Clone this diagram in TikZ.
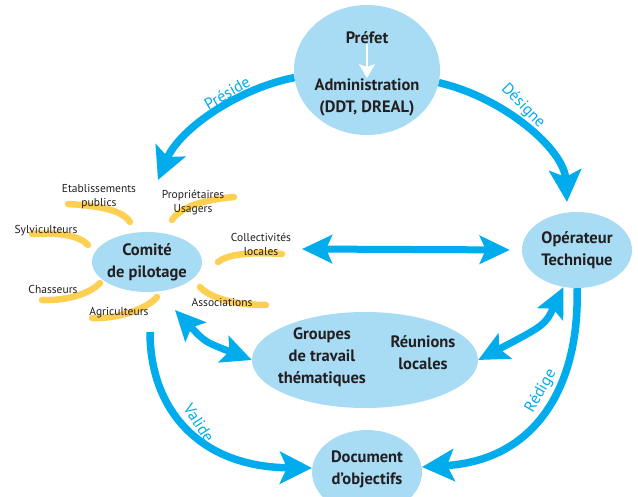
\documentclass[tikz,border=0pt]{standalone}
\usepackage{fontspec}
\setmainfont{PT Sans}
\usetikzlibrary{shapes.geometric,arrows.meta}
\definecolor{fleche}{RGB}{0,172,236}
\definecolor{bulle}{RGB}{168,219,244}
\definecolor{pinceau}{RGB}{253,196,40}
\definecolor{encre}{RGB}{35,31,32}
\begin{document}
\begin{tikzpicture}[x=1pt,y=-1pt,
  ovale/.style={ellipse,fill=bulle,inner sep=0pt},
  gros/.style={font=\bfseries\fontsize{16.5}{22}\selectfont,text=encre,align=center,inner sep=0pt},
  acteur/.style={font=\fontsize{11.5}{14}\selectfont,text=encre,align=center,inner sep=0pt},
  trait/.style={draw=pinceau,line width=6.5pt,line cap=round,opacity=0.8},
  lien/.style={draw=fleche,line width=7.5pt,-{Stealth[length=32pt,width=32pt,inset=7pt]}},
  liendouble/.style={draw=fleche,line width=7pt,{Stealth[length=30pt,width=28pt,inset=6pt]}-{Stealth[length=30pt,width=28pt,inset=6pt]}},
  verbe/.style={font=\fontsize{16}{18}\selectfont,text=fleche,inner sep=0pt}
]
\useasboundingbox (0,0) rectangle (638,497);
% bulles
\node[ovale,minimum width=146pt,minimum height=130pt] (pref) at (367,70) {};
\node[ovale,minimum width=110pt,minimum height=60pt] (comite) at (147,262) {};
\node[ovale,minimum width=110pt,minimum height=76pt] (oper) at (577,250) {};
\node[ovale,minimum width=226pt,minimum height=96pt] (groupes) at (365,360) {};
\node[ovale,minimum width=110pt,minimum height=84pt] (doc) at (367,472) {};
% textes des bulles
\node[gros] (prefet) at (367,38) {Préfet};
\node[gros] (admin) at (367,97) {Administration\\(DDT, DREAL)};
\draw[white,line width=2pt,-{Stealth[length=14pt,width=16pt,inset=3pt]}] (prefet) -- (admin);
\node[gros] at (comite) {Comité\\de pilotage};
\node[gros] at (oper) {Opérateur\\Technique};
\node[gros] at (322,357) {Groupes\\de travail\\thématiques};
\node[gros] at (423,353) {Réunions\\locales};
\node[gros] at (367,469) {Document\\d’objectifs};
% acteurs du comite
\draw[trait] (68,204) .. controls (100,206) and (122,210) .. (130,222);
\draw[trait] (234,197) .. controls (200,200) and (180,208) .. (172,220);
\draw[trait] (32,234) .. controls (60,232) and (80,236) .. (88,245);
\draw[trait] (282,254) .. controls (250,252) and (228,254) .. (218,262);
\draw[trait] (42,300) .. controls (70,301) and (92,292) .. (100,283);
\draw[trait] (92,318) .. controls (120,319) and (148,308) .. (157,297);
\draw[trait] (266,305) .. controls (235,305) and (210,298) .. (200,287);
\node[acteur] (etab) at (99,197) {Etablissements\\publics};
\node[acteur] (prop) at (193,203) {Propriétaires\\Usagers};
\node[acteur] (sylv) at (46,231) {Sylviculteurs};
\node[acteur] (coll) at (261,244) {Collectivités\\locales};
\node[acteur] (chas) at (53,289) {Chasseurs};
\node[acteur] (agri) at (119,313) {Agriculteurs};
\node[acteur] (asso) at (222,302) {Associations};
% fleches
\coordinate (preside-fin) at (158,180);
\coordinate (designe-fin) at (567,202);
\coordinate (valide-debut) at (150,332);
\coordinate (valide-fin) at (312,468);
\coordinate (redige-fin) at (422,467);
\coordinate (comite-droite) at (302,249);
\coordinate (comite-bas) at (175,310);
\draw[lien] (pref.186) .. controls (240,88) and (180,128) .. (preside-fin);
\draw[lien] (pref.-10) .. controls (505,98) and (564,150) .. (designe-fin);
\draw[lien] (valide-debut) .. controls (150,410) and (200,467) .. (valide-fin);
\draw[lien] (oper.south) .. controls (580,380) and (540,460) .. (redige-fin);
\draw[liendouble,shorten >=12pt] (comite-droite) -- (oper.west);
\draw[liendouble] (comite-bas) .. controls (205,342) .. (groupes.west);
\draw[liendouble] (oper.-110) .. controls (545,325) .. (groupes.east);
% verbes
\node[verbe,rotate=30] at (227,93) {Préside};
\node[verbe,rotate=-46] at (523,106) {Désigne};
\node[verbe,rotate=-57] at (199,423) {Valide};
\node[verbe,rotate=60] at (541,391) {Rédige};
\end{tikzpicture}
\end{document}
